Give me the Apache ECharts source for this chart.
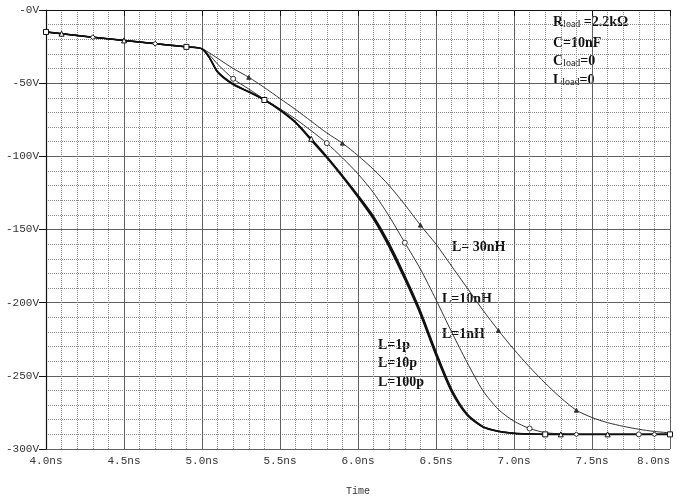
<!DOCTYPE html>
<html><head><meta charset="utf-8">
<script src="https://cdn.jsdelivr.net/npm/echarts@6/dist/echarts.min.js"></script>
<style>html,body{margin:0;padding:0;background:#fff}#c{width:678px;height:497px}</style>
</head><body><div id="c"></div>
<script>
// time axis (ns)
const times = [4.0,4.1,4.2,4.3,4.4,4.5,4.6,4.7,4.8,4.9,5.0,5.05,5.1,5.2,5.3,5.4,5.5,5.6,5.7,5.8,5.9,
  6.0,6.1,6.2,6.3,6.4,6.5,6.6,6.7,6.8,6.9,7.0,7.1,7.2,7.3,7.4,7.5,7.6,7.7,7.8,7.9,8.0];
// voltages (V)
const vL1p = [-15,-16.2,-17.4,-18.6,-19.7,-20.8,-21.9,-23,-24.1,-25.2,-26.5,-33,-42.5,-51,-56,-61.5,-68.5,-77,-89,-101,-114,
  -128,-143,-162,-184,-208,-236,-261,-277,-285,-288,-289.3,-289.8,-290,-290,-290,-290,-290,-290,-290,-290,-290];
const vL10p = [-15,-16.2,-17.4,-18.6,-19.7,-20.8,-21.9,-23,-24.1,-25.2,-26.5,-33,-42,-50.5,-55.8,-61.3,-68.2,-76.5,-88,-100,-113,
  -126.5,-141,-159.5,-181.5,-205.5,-233.5,-259,-276,-284.5,-287.8,-289.2,-289.8,-290,-290,-290,-290,-290,-290,-290,-290,-290];
const vL100p = [-15,-16.2,-17.4,-18.6,-19.7,-20.8,-21.9,-23,-24.1,-25.2,-26.5,-33,-42.3,-50.8,-55.9,-61.4,-68.3,-76.8,-88.5,-100.5,-113.5,
  -127.2,-142,-160.8,-182.8,-206.8,-234.8,-260,-276.5,-284.8,-287.9,-289.3,-289.8,-290,-290,-290,-290,-290,-290,-290,-290,-290];
const vL10n = [-15,-16.2,-17.4,-18.6,-19.7,-20.8,-21.9,-23,-24.1,-25.2,-26.5,-31,-37,-47,-54,-61,-67.5,-74.5,-82.5,-91,-101,
  -112,-125,-141,-159,-177,-198,-220,-241,-260,-273,-281,-286,-288.8,-289.7,-290,-290,-290,-290,-290,-290,-290];
const vL30n = [-15,-16.2,-17.4,-18.6,-19.7,-20.8,-21.9,-23,-24.1,-25.2,-26.5,-29.5,-33,-40,-46,-53,-60.5,-68,-76,-84,-91,
  -99.5,-109,-120,-133,-147,-160,-175,-190,-205,-219,-232,-244,-255,-265,-273.5,-278.5,-282,-284.5,-286.5,-288,-289];
// tick labels
const xTickLabels = {4:'4.0ns',4.5:'4.5ns',5:'5.0ns',5.5:'5.5ns',6:'6.0ns',6.5:'6.5ns',7:'7.0ns',7.5:'7.5ns',8:'8.0ns'};
const yTickLabels = {0:'-0V','-50':'-50V','-100':'-100V','-150':'-150V','-200':'-200V','-250':'-250V','-300':'-300V'};

const chart = echarts.init(document.getElementById('c'), null, {renderer:'canvas'});
function mk(vals, marks, sym, size) {
  return times.map((t,i) => marks.includes(i)
    ? {value:[t, vals[i]], symbol:sym, symbolSize:size}
    : {value:[t, vals[i]], symbol:'none'});
}
function series(name, vals, marks, sym, size, width, color, hollow) {
  return {
    name, type:'line', data: mk(vals, marks, sym, size), smooth:0.25,
    showAllSymbol:true, animation:false, silent:true,
    lineStyle:{color, width},
    itemStyle:{color: hollow ? '#fff' : color, borderColor: color, borderWidth: 1},
    emphasis:{disabled:true}
  };
}
const mono = '"Liberation Mono", "DejaVu Sans Mono", monospace';
const serif = '"Liberation Serif", "DejaVu Serif", serif';
const lab = (text, left, top) => ({type:'text', left, top, silent:true,
  style:{text, fontFamily:serif, fontWeight:'bold', fontSize:14, fill:'#111'}});
const richLab = (a, b, c, left, top) => ({type:'text', left, top, silent:true,
  style:{text:'{a|'+a+'}{b|'+b+'}{a|'+c+'}', fill:'#111',
    rich:{a:{fontFamily:serif, fontWeight:'bold', fontSize:14, fill:'#111'},
          b:{fontFamily:serif, fontSize:10, fill:'#111', padding:[4,0,0,0]}}}});

chart.setOption({
  backgroundColor:'#fff',
  animation:false,
  grid:{left:46, right:8, top:10, bottom:48, containLabel:false, outerBoundsMode:'none'},
  xAxis:{type:'value', min:4, max:8, interval:0.5,
    name:'Time', nameLocation:'middle', nameGap:37,
    nameTextStyle:{fontFamily:mono, fontSize:10, color:'#333'},
    axisLine:{show:true, lineStyle:{color:'#111', width:1.2}},
    axisTick:{show:true, length:6, lineStyle:{color:'#111'}},
    axisLabel:{margin:7, fontFamily:mono, fontSize:11, color:'#333', alignMaxLabel:'right',
      formatter:v => xTickLabels[v] || ''},
    splitLine:{show:true, lineStyle:{color:'#606060', width:1}},
    minorTick:{show:false, splitNumber:5},
    minorSplitLine:{show:true, lineStyle:{color:'#8a8a8a', width:1, type:[1,1]}}
  },
  yAxis:{type:'value', min:-300, max:0, interval:50,
    axisLine:{show:true, onZero:false, lineStyle:{color:'#111', width:1.2}},
    axisTick:{show:true, length:7, lineStyle:{color:'#111'}},
    axisLabel:{margin:7, fontFamily:mono, fontSize:11, color:'#333',
      formatter:v => yTickLabels[String(v)] || ''},
    splitLine:{show:true, lineStyle:{color:'#606060', width:1}},
    minorTick:{show:false, splitNumber:5},
    minorSplitLine:{show:true, lineStyle:{color:'#8a8a8a', width:1, type:[1,1]}}
  },
  series:[
    series('L=30nH', vL30n, [14,20,25,30,35], 'triangle', 4, 1, '#333', false),
    series('L=10nH', vL10n, [13,19,24,32,39], 'circle', 5, 1, '#333', true),
    series('L=100p', vL100p, [3,7,15,35,40], 'diamond', 5, 1.4, '#111', true),
    series('L=10p', vL10p, [1,5,18,34,37], 'triangle', 5, 1.4, '#111', true),
    series('L=1p', vL1p, [0,9,15,33,41], 'rect', 5, 1.6, '#111', true)
  ],
  graphic:[
    richLab('R','load',' =2.2kΩ', 553, 15),
    lab('C=10nF', 553, 36),
    richLab('C','load','=0', 553, 54),
    richLab('L','load','=0', 553, 73),
    lab('L= 30nH', 452, 240),
    lab('L=10nH', 442, 292),
    lab('L=1nH', 442, 327),
    lab('L=1p', 378, 338),
    lab('L=10p', 378, 356),
    lab('L=100p', 378, 375)
  ]
});
</script>
</body></html>
